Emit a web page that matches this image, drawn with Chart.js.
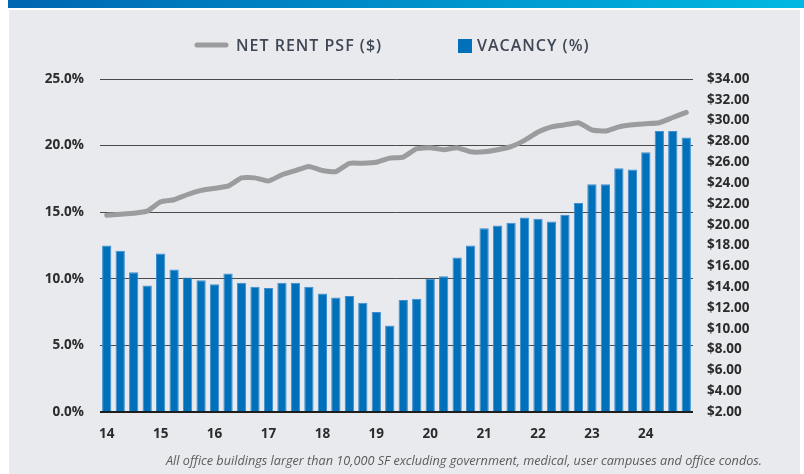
<!DOCTYPE html>
<html>
<head>
<meta charset="utf-8">
<script src="https://cdn.jsdelivr.net/npm/chart.js@4.4.1/dist/chart.umd.min.js"></script>
<style>
  html, body { margin: 0; padding: 0; background: #fff; }
  canvas { display: block; }
</style>
</head>
<body>
<canvas id="chart" width="804" height="474"></canvas>
<script>
// Office market: vacancy (%) bars vs net rent PSF ($) line, quarterly 2014-2024

// --- Data ---
const years = ['14', '15', '16', '17', '18', '19', '20', '21', '22', '23', '24'];
const quarterNames = ['Q1', 'Q2', 'Q3', 'Q4'];
const quarters = [];
years.forEach(function (y) {
    quarterNames.forEach(function (q) { quarters.push(y + ' ' + q); });
});

const vacancy = [
    12.5, 12.1, 10.5, 9.5,
    11.9, 10.7, 10.1, 9.9,
    9.6, 10.4, 9.7, 9.4,
    9.3, 9.7, 9.7, 9.4,
    8.9, 8.6, 8.7, 8.2,
    7.5, 6.5, 8.4, 8.5,
    10.0, 10.2, 11.6, 12.5,
    13.8, 14.0, 14.2, 14.6,
    14.5, 14.3, 14.8, 15.7,
    17.1, 17.1, 18.3, 18.2,
    19.5, 21.1, 21.1, 20.6
];

const netRent = [
    20.9, 21.0, 21.1, 21.3,
    22.2, 22.4, 22.9, 23.3,
    23.5, 23.7, 24.5, 24.5,
    24.2, 24.8, 25.2, 25.6,
    25.2, 25.1, 25.9, 25.9,
    26.0, 26.4, 26.5, 27.3,
    27.4, 27.2, 27.4, 27.0,
    27.0, 27.2, 27.5, 28.1,
    28.9, 29.4, 29.6, 29.8,
    29.1, 29.0, 29.4, 29.6,
    29.7, 29.8, 30.3, 30.8
];

const note = 'All office buildings larger than 10,000 SF excluding government, medical, user campuses and office condos.';

// --- Colors ---
const barColor = '#0070ba';
const barEdge = '#3f8fcf';
const lineColor = '#9b9c9e';
const panelColor = '#e9eaee';
const textColor = '#2b2b2b';
const legendText = '#3f4754';

const tickFont = { family: '"Open Sans", sans-serif', size: 13.5, weight: 'bold' };

// --- Background, legend and footnote ---
const framePlugin = {
    id: 'frame',
    beforeDraw(chart) {
        const ctx = chart.ctx;
        ctx.save();
        ctx.fillStyle = '#ffffff';
        ctx.fillRect(0, 0, chart.width, chart.height);
        const grad = ctx.createLinearGradient(8, 0, chart.width, 0);
        grad.addColorStop(0, '#0066b2');
        grad.addColorStop(1, '#00b9e2');
        ctx.fillStyle = grad;
        ctx.fillRect(8, 0, chart.width - 8, 8);
        ctx.fillStyle = panelColor;
        ctx.fillRect(9, 10, 791, chart.height - 10);
        ctx.restore();
    },
    afterDraw(chart) {
        const ctx = chart.ctx;
        const rent = chart.data.datasets[0];
        const vac = chart.data.datasets[1];
        ctx.save();

        // legend: rent line icon
        ctx.strokeStyle = rent.borderColor;
        ctx.lineWidth = 5;
        ctx.lineCap = 'round';
        ctx.beginPath();
        ctx.moveTo(197, 45);
        ctx.lineTo(226, 45);
        ctx.stroke();

        ctx.font = '600 16px "Open Sans", sans-serif';
        ctx.fillStyle = legendText;
        ctx.textBaseline = 'middle';
        ctx.textAlign = 'left';
        if ('letterSpacing' in ctx) ctx.letterSpacing = '1px';
        ctx.fillText(rent.label, 236, 46, 148);

        // legend: vacancy square
        ctx.fillStyle = vac.backgroundColor;
        ctx.fillRect(458, 39, 14, 14);
        ctx.fillStyle = legendText;
        ctx.fillText(vac.label, 477, 46, 114);
        if ('letterSpacing' in ctx) ctx.letterSpacing = '0px';

        // footnote
        ctx.font = 'italic 13px "Open Sans", sans-serif';
        ctx.fillStyle = '#5b5b5b';
        ctx.textAlign = 'right';
        ctx.fillText(note, 762, 461, 596);
        ctx.restore();
    }
};

// --- Chart ---
const chart = new Chart(document.getElementById('chart').getContext('2d'), {
    type: 'bar',
    data: {
        labels: quarters,
        datasets: [
            {
                label: 'NET RENT PSF ($)',
                type: 'line',
                data: netRent,
                yAxisID: 'y1',
                borderColor: lineColor,
                backgroundColor: lineColor,
                borderWidth: 5,
                borderCapStyle: 'round',
                borderJoinStyle: 'round',
                pointRadius: 0,
                tension: 0.15,
                fill: false,
                order: 0
            },
            {
                label: 'VACANCY (%)',
                data: vacancy,
                yAxisID: 'y',
                backgroundColor: barColor,
                borderColor: barEdge,
                borderWidth: 1,
                barPercentage: 0.69,
                categoryPercentage: 1.0,
                order: 1
            }
        ]
    },
    options: {
        responsive: false,
        devicePixelRatio: 1,
        animation: false,
        layout: { padding: { top: 79, left: 0, right: 0, bottom: 0 } },
        plugins: {
            legend: { display: false },
            tooltip: { enabled: false }
        },
        scales: {
            x: {
                grid: { display: false },
                border: { display: false },
                ticks: {
                    autoSkip: false,
                    maxRotation: 0,
                    padding: 6,
                    color: textColor,
                    font: tickFont,
                    callback: function (value, index) {
                        return index % 4 === 0 ? years[index / 4] : '';
                    }
                },
                afterFit: function (scale) { scale.height = 62; }
            },
            y: {
                position: 'left',
                min: 0,
                max: 25,
                border: { display: false },
                grid: {
                    drawTicks: false,
                    color: function (c) { return c.tick.value === 0 ? '#1e1e1e' : '#4a4a4a'; },
                    lineWidth: function (c) { return c.tick.value === 0 ? 2 : 1; }
                },
                ticks: {
                    stepSize: 5,
                    padding: 16,
                    color: textColor,
                    font: tickFont,
                    callback: function (v) { return v.toFixed(1) + '%'; }
                },
                afterFit: function (scale) { scale.width = 100; }
            },
            y1: {
                position: 'right',
                min: 2,
                max: 34,
                border: { display: false },
                grid: { display: false, drawTicks: false },
                ticks: {
                    stepSize: 2,
                    padding: 14,
                    color: textColor,
                    font: tickFont,
                    callback: function (v) { return '$' + v.toFixed(2); }
                },
                afterFit: function (scale) { scale.width = 111; }
            }
        }
    },
    plugins: [framePlugin]
});
</script>
</body>
</html>
